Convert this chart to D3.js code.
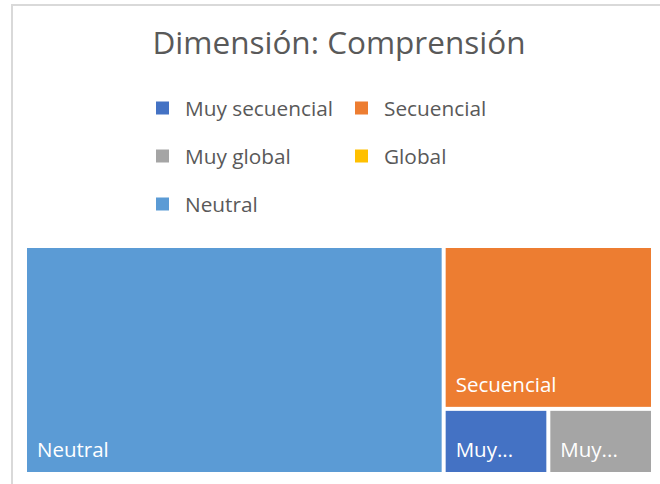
<!DOCTYPE html>
<html>
<head>
<meta charset="utf-8">
<script src="https://cdn.jsdelivr.net/npm/d3@7"></script>
<style>
html,body{margin:0;padding:0;background:#fff;}
svg{display:block;}
text{font-family:"Open Sans","Noto Sans",sans-serif;}
</style>
</head>
<body>
<svg id="chart" width="660" height="484"></svg>
<script>
const title = "Dimensión: Comprensión";
const categories = ["Muy secuencial", "Secuencial", "Muy global", "Global", "Neutral"];
const values = [1, 5, 1, 0, 14];
const colors = ["#4472C4", "#ED7D31", "#A5A5A5", "#FFC000", "#5B9BD5"];

const W = 660, H = 484;
const svg = d3.select("#chart");

// chart area border (cropped on right/bottom)
svg.append("rect").attr("x", 12).attr("y", 5).attr("width", 700).attr("height", 600)
  .attr("fill", "#fff").attr("stroke", "#d9d9d9").attr("stroke-width", 2);

// title
svg.append("text").attr("x", 339).attr("y", 54).attr("text-anchor", "middle")
  .attr("fill", "#595959").style("font-size", "31.5px").text(title);

// legend
const legend = svg.append("g");
const legX = [156, 355], legY0 = 108, legDY = 48;
categories.forEach((c, i) => {
  const col = i % 2, row = Math.floor(i / 2);
  const g = legend.append("g").attr("transform", `translate(${legX[col]},${legY0 + row * legDY})`);
  g.append("rect").attr("x", 0).attr("y", -6.5).attr("width", 13).attr("height", 13).attr("fill", colors[i]);
  g.append("text").attr("x", 29).attr("y", 7.5).attr("fill", "#595959")
    .style("font-size", "20.8px").text(c);
});

// treemap
const data = categories.map((c, i) => ({name: c, value: values[i], color: colors[i]}))
  .filter(d => d.value > 0);
const root = d3.hierarchy({children: data}).sum(d => d.value || 0)
  .sort((a, b) => b.value - a.value);
const tx = 27, ty = 248, tw = 624, th = 224;
d3.treemap().tile(d3.treemapSquarify).size([tw, th]).paddingInner(4)(root);

const cells = svg.append("g").attr("transform", `translate(${tx},${ty})`)
  .selectAll("g").data(root.leaves()).join("g")
  .attr("transform", d => `translate(${d.x0},${d.y0})`);
cells.append("rect").attr("width", d => d.x1 - d.x0).attr("height", d => d.y1 - d.y0)
  .attr("fill", d => d.data.color);
cells.append("text").attr("x", 10).attr("y", d => d.y1 - d.y0 - 15)
  .attr("fill", "#fff").style("font-size", "20.5px")
  .each(function(d) {
    const t = d3.select(this);
    const maxW = d.x1 - d.x0 - 20;
    t.text(d.data.name);
    if (this.getComputedTextLength() > maxW) {
      const words = d.data.name.split(" ");
      while (words.length > 1) {
        words.pop();
        t.text(words.join(" ") + "...");
        if (this.getComputedTextLength() <= maxW) break;
      }
    }
  });
</script>
</body>
</html>
